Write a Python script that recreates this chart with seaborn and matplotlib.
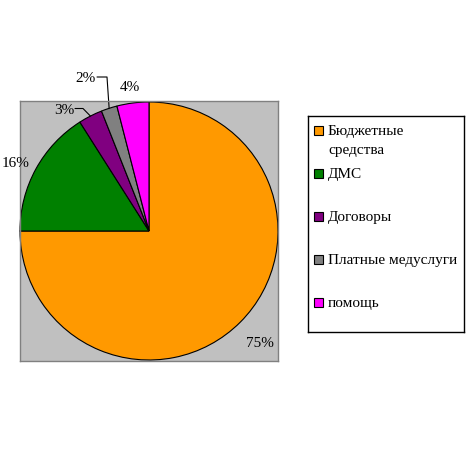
import matplotlib
matplotlib.use("Agg")
import matplotlib.pyplot as plt
import seaborn as sns
import numpy as np
from matplotlib.patches import Rectangle

names = ["Бюджетные\nсредства", "ДМС", "Договоры", "Платные медуслуги", "помощь"]
shares = [75, 16, 3, 2, 4]
pct_labels = ["75%", "16%", "3%", "2%", "4%"]
colors = ["#FF9900", "#008000", "#800080", "#808080", "#FF00FF"]

sns.set_style("white")
plt.rcParams["font.family"] = ["Liberation Serif", "DejaVu Serif"]
plt.rcParams["text.color"] = "black"
FS = 11

fig = plt.figure(figsize=(4.76, 4.52), dpi=100)
fig.patch.set_facecolor("white")

# plot area: 258x260 px, pie fills it
ax = fig.add_axes([20 / 476, 90 / 452, 258 / 476, 260 / 452])
wedges, _ = ax.pie(shares, colors=sns.color_palette(colors), startangle=90,
                   counterclock=False, radius=1, frame=True,
                   wedgeprops=dict(edgecolor="black", linewidth=0.8))
ax.set_facecolor("#C0C0C0")
ax.set_xlim(-1, 1)
ax.set_ylim(-130 / 129, 130 / 129)
ax.set_aspect("auto")
ax.set_xticks([])
ax.set_yticks([])
for s in ax.spines.values():
    s.set_color("#808080")
    s.set_linewidth(1)

# label distance and angle shift from wedge middle
dist = [1.22, 1.16, 1.15, 1.29, 1.13]
shift = [0, 1.7, 7.9, 4.3, 0.3]
mids = []
for w, lab, d, sh in zip(wedges, pct_labels, dist, shift):
    m = (w.theta1 + w.theta2) / 2
    mids.append(m)
    a = np.deg2rad(m + sh)
    ax.text(d * np.cos(a), d * np.sin(a), lab, ha="center", va="center",
            fontsize=FS, color="black", clip_on=False)

# leader lines for the small slices
px = lambda x, y: ((x - 149) / 129, (232 - y) / 129)
leaders = {2: [px(75, 109.5), px(83, 109.5)], 3: [px(97, 78), px(107, 78)]}
for i, pts in leaders.items():
    a = np.deg2rad(mids[i])
    pts = pts + [(np.cos(a), np.sin(a))]
    xs, ys = zip(*pts)
    ax.plot(xs, ys, color="black", lw=0.8, clip_on=False)

# legend box
lax = fig.add_axes([308 / 476, (452 - 333) / 452, 156 / 476, 216 / 452])
lax.set_xlim(0, 156)
lax.set_ylim(216, 0)
lax.set_xticks([])
lax.set_yticks([])
for s in lax.spines.values():
    s.set_color("black")
    s.set_linewidth(1)
row0, step = 14.5, 43
for k, (nm, c) in enumerate(zip(names, colors)):
    yc = row0 + k * step
    lax.add_patch(Rectangle((6, yc - 4.5), 9, 9, facecolor=c, edgecolor="black", lw=0.8))
    for j, line in enumerate(nm.split("\n")):
        lax.text(20, yc + j * 19, line, ha="left", va="center", fontsize=FS, color="black")

fig.savefig("out.png", dpi=100)
